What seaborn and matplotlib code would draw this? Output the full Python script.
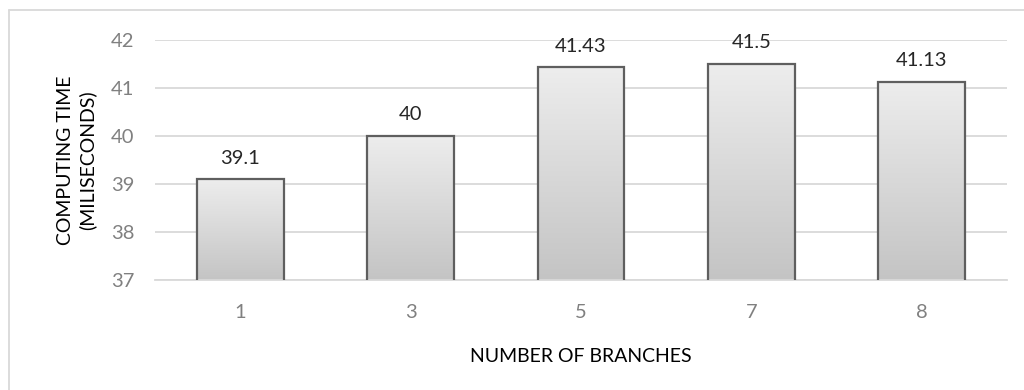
import numpy as np
import pandas as pd
import matplotlib
matplotlib.use("Agg")
import matplotlib.pyplot as plt
import seaborn as sns

# data
branches = ["1", "3", "5", "7", "8"]
times = [39.1, 40, 41.43, 41.5, 41.13]
value_labels = ["39.1", "40", "41.43", "41.5", "41.13"]
y_ticks = [37, 38, 39, 40, 41, 42]

df = pd.DataFrame({"Branches": branches, "Time": times})

sns.set_style("white")
plt.rcParams["font.family"] = ["Lato", "DejaVu Sans"]

fig = plt.figure(figsize=(10.24, 3.9), dpi=100)
ax = fig.add_axes([155 / 1024, 110 / 390, 852 / 1024, 240 / 390])

sns.barplot(data=df, x="Branches", y="Time", color="#dcdcdc", width=0.51,
            edgecolor="#5f5f5f", linewidth=1.6, ax=ax, zorder=3)

ax.set_ylim(37, 42)
ax.set_xlim(-0.5, 4.5)
ax.set_yticks(y_ticks)

# vertical gradient inside each bar (from the axis floor up to the bar top)
ymin = ax.get_ylim()[0]
grad = np.linspace(0, 1, 256).reshape(-1, 1)
cmap = matplotlib.colors.LinearSegmentedColormap.from_list("g", ["#c4c4c4", "#ededed"])
for patch in ax.patches:
    x0 = patch.get_x()
    w = patch.get_width()
    top = patch.get_y() + patch.get_height()
    ax.imshow(grad, cmap=cmap, aspect="auto", origin="lower",
              extent=[x0, x0 + w, ymin, top], zorder=2.5)
    patch.set_facecolor("none")
ax.set_xlim(-0.5, 4.5)
ax.set_ylim(37, 42)

for i, (v, lab) in enumerate(zip(times, value_labels)):
    ax.annotate(lab, (i, v), xytext=(0, 9), textcoords="offset points",
                ha="center", va="bottom", fontsize=14.5, color="#262626")

ax.yaxis.grid(True, color="#d9d9d9", linewidth=1.3, zorder=0)
ax.set_axisbelow(True)
for s in ["top", "right", "left"]:
    ax.spines[s].set_visible(False)
ax.spines["bottom"].set_color("#d9d9d9")
ax.spines["bottom"].set_linewidth(1.3)

ax.tick_params(axis="both", length=0, labelsize=14.5, labelcolor="#808080")
ax.tick_params(axis="y", pad=15)
ax.tick_params(axis="x", pad=17)

ax.set_ylabel("COMPUTING TIME\n(MILISECONDS)", fontsize=14, color="#000000",
              labelpad=10, linespacing=1.3)
ax.set_xlabel("NUMBER OF BRANCHES", fontsize=14, color="#000000", labelpad=20)

# light outer chart border (left and top visible)
fig.add_artist(plt.Line2D([8.5 / 1024, 8.5 / 1024], [0, 1 - 10 / 390],
                          transform=fig.transFigure, color="#d9d9d9", linewidth=1.3))
fig.add_artist(plt.Line2D([8.5 / 1024, 1], [1 - 10 / 390, 1 - 10 / 390],
                          transform=fig.transFigure, color="#d9d9d9", linewidth=1.3))

fig.savefig("out.png", dpi=100, facecolor="white")
